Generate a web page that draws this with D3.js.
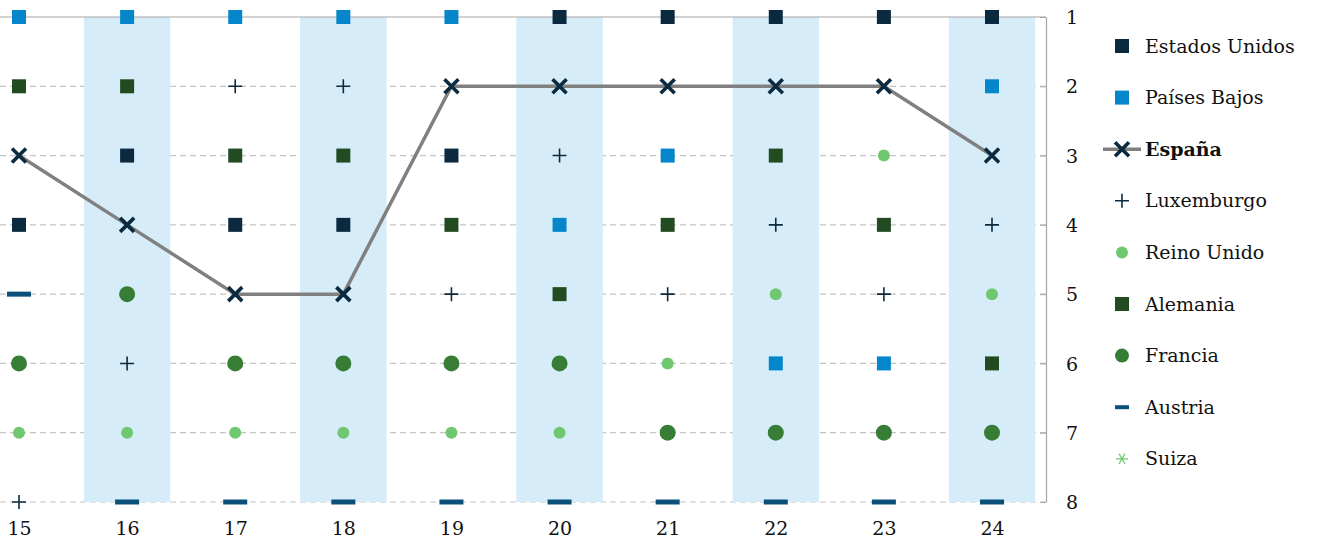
<!DOCTYPE html>
<html>
<head>
<meta charset="utf-8">
<script src="https://cdn.jsdelivr.net/npm/d3@7"></script>
<style>
  html, body { margin: 0; padding: 0; background: #fff; }
  svg { display: block; font-family: "DejaVu Serif", serif; }
</style>
</head>
<body>
<svg id="chart" width="1317" height="548"></svg>
<script>
// ── Data ─────────────────────────────────────────────────────────────────────
const years = ['15', '16', '17', '18', '19', '20', '21', '22', '23', '24'];
const rankTicks = [1, 2, 3, 4, 5, 6, 7, 8];
const shadedYears = ['16', '18', '20', '22', '24'];

const estadosUnidos = [4, 3, 4, 4, 3, 1, 1, 1, 1, 1];
const paisesBajos   = [1, 1, 1, 1, 1, 4, 3, 6, 6, 2];
const espana        = [3, 4, 5, 5, 2, 2, 2, 2, 2, 3];
const luxemburgo    = [8, 6, 2, 2, 5, 3, 5, 4, 5, 4];
const reinoUnido    = [7, 7, 7, 7, 7, 7, 6, 5, 3, 5];
const alemania      = [2, 2, 3, 3, 4, 5, 4, 3, 4, 6];
const francia       = [6, 5, 6, 6, 6, 6, 7, 7, 7, 7];
const austria       = [5, 8, 8, 8, 8, 8, 8, 8, 8, 8];
const suiza         = [];

const series = [
	{ name: 'Estados Unidos', values: estadosUnidos, shape: 'square', color: '#0c2a3f' },
	{ name: 'Países Bajos',   values: paisesBajos,   shape: 'square', color: '#0586cb' },
	{ name: 'España',         values: espana,        shape: 'cross',  color: '#0c2a3f', line: '#808080' },
	{ name: 'Luxemburgo',     values: luxemburgo,    shape: 'plus',   color: '#0c2a3f' },
	{ name: 'Reino Unido',    values: reinoUnido,    shape: 'dot',    color: '#6fc86f' },
	{ name: 'Alemania',       values: alemania,      shape: 'square', color: '#224b22' },
	{ name: 'Francia',        values: francia,       shape: 'circle', color: '#377d36' },
	{ name: 'Austria',        values: austria,       shape: 'dash',   color: '#0b5079' },
	{ name: 'Suiza',          values: suiza,         shape: 'star',   color: '#6fc86f' }
];

// ── Scales ───────────────────────────────────────────────────────────────────
const svg = d3.select('#chart');
const x = d3.scalePoint().domain(years).range([19, 992]);
const bandW = x.step() * 0.8;
const y = d3.scaleLinear().domain([1, 8]).range([17, 502]);
const axisX = 1046;

// gridlines first, the bands cover them
svg.append('g').selectAll('line')
	.data(rankTicks.slice(1))
	.join('line')
	.attr('x1', 0).attr('x2', axisX)
	.attr('y1', d => y(d)).attr('y2', d => y(d))
	.attr('stroke', '#c4c4c4')
	.attr('stroke-width', 1.2)
	.attr('stroke-dasharray', '6,4');

// shaded columns
svg.append('g').selectAll('rect')
	.data(shadedYears)
	.join('rect')
	.attr('x', d => x(d) - bandW / 2)
	.attr('y', y(1))
	.attr('width', bandW)
	.attr('height', y(8) - y(1))
	.attr('fill', '#d6edf9');

// top border
svg.append('line')
	.attr('x1', 0).attr('x2', axisX)
	.attr('y1', y(1)).attr('y2', y(1))
	.attr('stroke', '#a6a6a6').attr('stroke-width', 1.2);

// right axis
const yAxis = d3.axisRight(y).tickValues(rankTicks).tickSize(0).tickPadding(20).tickFormat(d3.format('d'));
const axG = svg.append('g')
	.attr('transform', `translate(${axisX},0)`)
	.call(yAxis);
axG.select('.domain').attr('stroke', '#a6a6a6').attr('stroke-width', 1.2);
axG.selectAll('.tick').append('line')
	.attr('x1', -6).attr('x2', 0)
	.attr('stroke', '#a6a6a6');
axG.selectAll('.tick text')
	.attr('font-family', '"DejaVu Serif", serif')
	.attr('font-size', 19)
	.attr('fill', '#111')
	.attr('dy', '0.35em');

// bottom labels
const xAxis = d3.axisBottom(x).tickSize(0).tickPadding(20);
const xG = svg.append('g')
	.attr('transform', `translate(0,${y(8)})`)
	.call(xAxis);
xG.select('.domain').remove();
xG.selectAll('.tick text')
	.attr('font-family', '"DejaVu Serif", serif')
	.attr('font-size', 19)
	.attr('fill', '#111');

// ── Markers ──────────────────────────────────────────────────────────────────
function drawMarker(g, shape, color) {
	if (shape === 'square') {
		g.append('rect').attr('x', -7).attr('y', -7).attr('width', 14).attr('height', 14).attr('fill', color);
	} else if (shape === 'circle') {
		g.append('circle').attr('r', 8).attr('fill', color);
	} else if (shape === 'dot') {
		g.append('circle').attr('r', 6).attr('fill', color);
	} else if (shape === 'dash') {
		g.append('rect').attr('x', -12).attr('y', -2.5).attr('width', 24).attr('height', 5).attr('fill', color);
	} else if (shape === 'plus') {
		g.append('path').attr('d', 'M-7,0H7M0,-7V7').attr('stroke', color).attr('stroke-width', 1.6);
	} else if (shape === 'cross') {
		g.append('path').attr('d', 'M-7,-7L7,7M-7,7L7,-7').attr('stroke', color).attr('stroke-width', 3.6);
	} else if (shape === 'star') {
		g.append('path').attr('d', 'M-6,0H6M-3,-5.2L3,5.2M-3,5.2L3,-5.2').attr('stroke', color).attr('stroke-width', 1.2);
	}
}

// España line
const esp = series.find(s => s.line);
svg.append('path')
	.datum(esp.values)
	.attr('d', d3.line().x((d, i) => x(years[i])).y(d => y(d)))
	.attr('fill', 'none')
	.attr('stroke', esp.line)
	.attr('stroke-width', 3.5);

series.forEach(s => {
	svg.append('g').selectAll('g')
		.data(s.values)
		.join('g')
		.attr('transform', (d, i) => `translate(${x(years[i])},${y(d)})`)
		.each(function() { drawMarker(d3.select(this), s.shape, s.color); });
});

// ── Legend ───────────────────────────────────────────────────────────────────
const legend = svg.append('g').attr('transform', 'translate(1122,46)');
series.forEach((s, i) => {
	const row = legend.append('g').attr('transform', `translate(0,${i * 51.6})`);
	if (s.line) {
		row.append('line').attr('x1', -19).attr('x2', 19).attr('stroke', s.line).attr('stroke-width', 3.5);
	}
	const m = row.append('g');
	if (s.shape === 'circle') {
		m.append('circle').attr('r', 7).attr('fill', s.color);
	} else if (s.shape === 'dash') {
		m.append('rect').attr('x', -7).attr('y', -2).attr('width', 14).attr('height', 4).attr('fill', s.color);
	} else {
		drawMarker(m, s.shape, s.color);
	}
	row.append('text')
		.attr('x', 23)
		.attr('dy', '0.35em')
		.attr('font-size', 19)
		.attr('font-weight', s.line ? 'bold' : 'normal')
		.attr('fill', '#111')
		.text(s.name);
});
</script>
</body>
</html>
